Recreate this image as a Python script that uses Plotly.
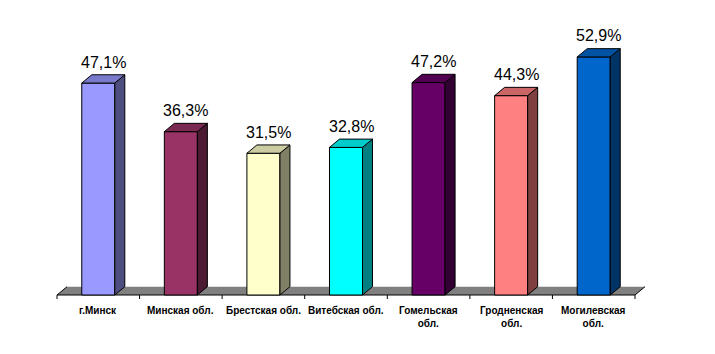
import plotly.graph_objects as go

categories = ["г.Минск", "Минская обл.", "Брестская обл.", "Витебская обл.",
              "Гомельская<br>обл.", "Гродненская<br>обл.", "Могилевская<br>обл."]
values = [47.1, 36.3, 31.5, 32.8, 47.2, 44.3, 52.9]
labels = ["47,1%", "36,3%", "31,5%", "32,8%", "47,2%", "44,3%", "52,9%"]
front_colors = ["#9999FF", "#993366", "#FFFFCC", "#00FFFF", "#660066", "#FF8080", "#0066CC"]
top_colors = ["#7A7ACC", "#7A2952", "#CCCCA3", "#00CCCC", "#520052", "#CC6666", "#0052A3"]
side_colors = ["#4D4D80", "#4D1A33", "#808066", "#008080", "#330033", "#804040", "#003366"]

# pixel geometry of the plot frame
W, H = 715, 354
X0PX, X1PX, Y0PX = 57, 635, 295
PX_PER_CAT = (X1PX - X0PX) / len(categories)
PX_PER_PCT = 4.5
DX = 10 / PX_PER_CAT   # depth offset in x units
DY = 8.3 / PX_PER_PCT  # depth offset in y units
BW = 0.4
n = len(categories)

xr = [-X0PX / PX_PER_CAT, (W - X0PX) / PX_PER_CAT]
yr = [-(H - Y0PX) / PX_PER_PCT, Y0PX / PX_PER_PCT]

xs = [i + 0.5 for i in range(n)]

fig = go.Figure()
fig.add_trace(go.Bar(x=xs, y=values, width=BW,
                     marker=dict(color=front_colors, line=dict(color="black", width=1)),
                     hoverinfo="skip"))

shapes = []
# floor
shapes.append(dict(type="path", layer="below", xref="x", yref="y",
                   path=f"M0,0 L{n},0 L{n+DX},{DY} L{DX},{DY} Z",
                   fillcolor="#808080", line=dict(width=0)))
shapes.append(dict(type="line", xref="x", yref="y", x0=0, y0=0, x1=n, y1=0,
                   layer="below", line=dict(color="black", width=1)))
shapes.append(dict(type="line", xref="x", yref="y", x0=0, y0=0, x1=DX, y1=DY,
                   layer="below", line=dict(color="black", width=1)))
shapes.append(dict(type="line", xref="x", yref="y", x0=n, y0=0, x1=n + DX, y1=DY,
                   layer="below", line=dict(color="black", width=1)))
for i in range(n + 1):
    shapes.append(dict(type="line", xref="x", yref="y", x0=i, x1=i, y0=0,
                       y1=-4 / PX_PER_PCT, line=dict(color="black", width=1)))

for x, v, tc, sc in zip(xs, values, top_colors, side_colors):
    r = x + BW / 2
    l = x - BW / 2
    shapes.append(dict(type="path", xref="x", yref="y",
                       path=f"M{r},0 L{r+DX},{DY} L{r+DX},{v+DY} L{r},{v} Z",
                       fillcolor=sc, line=dict(color="black", width=1)))
    shapes.append(dict(type="path", xref="x", yref="y",
                       path=f"M{l},{v} L{r},{v} L{r+DX},{v+DY} L{l+DX},{v+DY} Z",
                       fillcolor=tc, line=dict(color="black", width=1)))

annotations = []
for x, v, t in zip(xs, values, labels):
    annotations.append(dict(x=x + DX / 2, y=v, xref="x", yref="y", text=t,
                            showarrow=False, yanchor="middle", yshift=21,
                            font=dict(family="Liberation Sans, Arial", size=16, color="black")))
for x, c in zip(xs, categories):
    annotations.append(dict(x=x, y=0, xref="x", yref="y", text=f"<b>{c}</b>",
                            showarrow=False, yanchor="top", yshift=-8,
                            font=dict(family="Liberation Sans, Arial", size=10, color="black")))

fig.update_layout(
    width=W, height=H, margin=dict(l=0, r=0, t=0, b=0),
    paper_bgcolor="white", plot_bgcolor="white", showlegend=False,
    xaxis=dict(range=xr, visible=False, fixedrange=True),
    yaxis=dict(range=yr, visible=False, fixedrange=True),
    shapes=shapes, annotations=annotations,
)
fig.write_html("out.html")
